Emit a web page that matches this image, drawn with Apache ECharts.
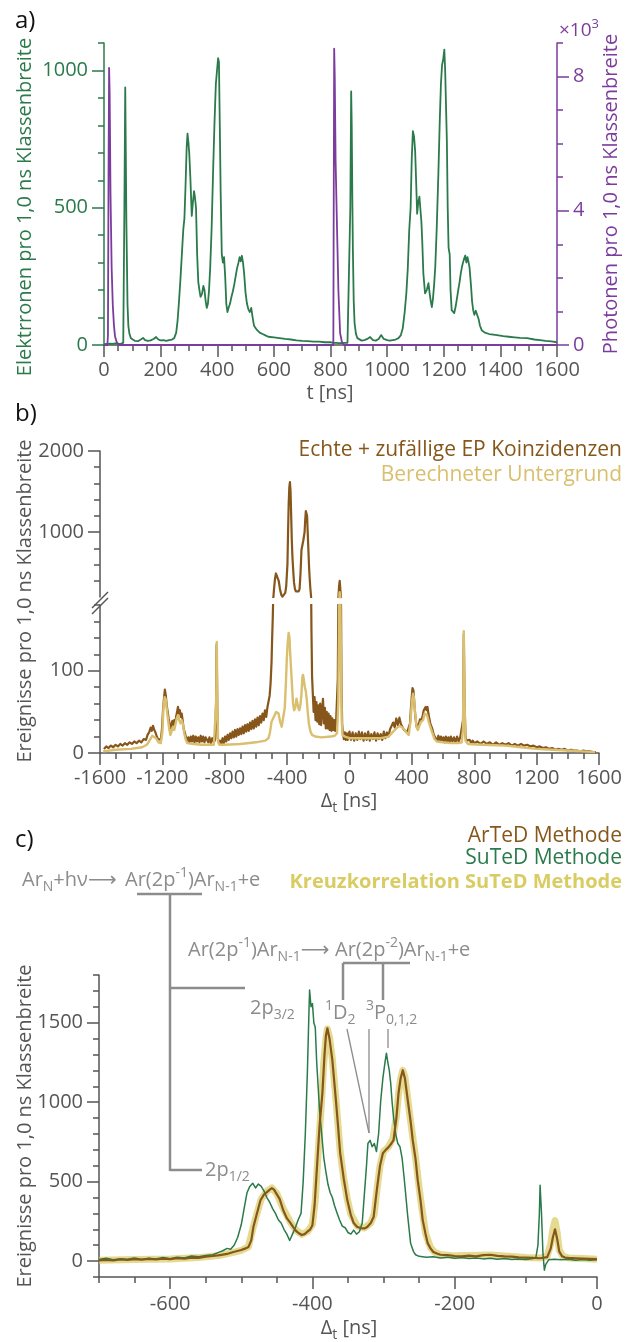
<!DOCTYPE html>
<html>
<head>
<meta charset="utf-8">
<title>Elektronen-Photonen-Koinzidenzen</title>
<script src="https://cdn.jsdelivr.net/npm/echarts@6.0.0/dist/echarts.min.js"></script>
<style>
  html, body { margin: 0; padding: 0; background: #ffffff; }
  #main { width: 635px; height: 1342px; }
</style>
</head>
<body>
<div id="main"></div>
<script>
var FONT = '"Open Sans", "DejaVu Sans", sans-serif';
var GREEN = '#2b7a4b', PURPLE = '#7b3c9e', BROWN = '#86561b', TAN = '#d9bf6e',
    YELLOW = '#d8cc62', GRAY = '#8c8c8c', AXIS = '#555555';

// ---- a) Flugzeitspektrum ----
var tTicks = [0, 200, 400, 600, 800, 1000, 1200, 1400, 1600];
var electronTicks = [0, 500, 1000];
var photonTicks = [0, 4, 8];
// [t in ns, Elektronen]
var electronsA = [[0,3],[10,4],[20,5],[30,4],[40,6],[50,4],[60,5],[68,8],[72,500],[75,938],[77,700],[79,450],[81,300],[83,150],[86,70],[90,40],[95,25],[100,18],[110,15],[120,14],[130,20],[138,26],[145,18],[155,15],[165,17],[175,22],[184,29],[192,20],[200,17],[210,18],[220,15],[230,18],[240,20],[248,25],[255,45],[260,90],[265,160],[270,240],[275,330],[280,420],[284,460],[288,580],[292,720],[295,770],[298,740],[301,700],[305,610],[310,470],[314,520],[318,560],[321,540],[325,500],[329,330],[333,230],[337,200],[341,175],[346,185],[351,215],[355,200],[359,160],[363,135],[367,150],[371,200],[375,280],[380,420],[385,620],[390,800],[395,950],[400,1010],[403,1045],[406,1030],[409,800],[412,560],[416,330],[420,300],[424,320],[428,250],[432,150],[436,120],[440,135],[445,150],[450,175],[455,195],[460,220],[465,250],[470,280],[475,300],[479,320],[483,305],[487,325],[491,300],[495,260],[500,190],[505,150],[510,130],[515,120],[520,135],[525,100],[530,70],[540,55],[550,45],[560,40],[570,35],[580,30],[600,28],[620,25],[640,22],[660,20],[680,17],[700,15],[720,14],[740,12],[760,12],[780,10],[800,10],
  [810,8],[820,8],[830,7],[840,7],[850,8],[860,8],[866,12],[870,500],[873,924],[875,800],[877,550],[879,350],[882,160],[885,80],[890,40],[895,25],[900,18],[910,16],[920,18],[930,22],[940,29],[950,18],[960,16],[970,22],[979,36],[988,22],[1000,18],[1010,16],[1020,18],[1030,20],[1040,25],[1048,35],[1055,60],[1062,120],[1068,190],[1073,280],[1078,417],[1083,500],[1087,680],[1091,779],[1095,760],[1099,706],[1103,580],[1106,478],[1110,520],[1114,540],[1117,536],[1121,450],[1124,380],[1128,260],[1134,188],[1140,200],[1146,225],[1150,190],[1154,160],[1158,138],[1162,170],[1166,220],[1170,283],[1175,420],[1181,623],[1186,820],[1190,950],[1194,1020],[1198,1040],[1202,1076],[1205,1000],[1208,870],[1211,743],[1214,500],[1217,355],[1221,330],[1224,200],[1228,127],[1233,120],[1237,116],[1242,140],[1246,165],[1251,199],[1256,230],[1260,260],[1264,283],[1268,300],[1272,315],[1276,326],[1280,300],[1284,320],[1288,300],[1291,283],[1296,220],[1300,160],[1304,127],[1308,110],[1313,125],[1318,120],[1323,95],[1328,70],[1334,54],[1345,45],[1360,40],[1375,38],[1388,36],[1410,32],[1430,30],[1450,28],[1470,26],[1494,25],[1520,20],[1540,18],[1560,15],[1580,13],[1600,10]];
// [t in ns, Photonen x10^3]
var photonsA = [[0,0],[12,0],[14,0.3],[16,5],[18,8.26],[20,7.5],[23,4.5],[27,2.3],[31,1.2],[35,0.6],[39,0.25],[45,0.08],[55,0],[810,0],[811,3],[813,8.83],[815,8],[818,5.5],[823,3.5],[828,1.6],[834,0.35],[840,0.1],[848,0],[1600,0]];

// ---- b) Koinzidenzen ----
var dTicksB = [-1600, -1200, -800, -400, 0, 400, 800, 1200, 1600];
var upperTicksB = [1000, 2000];
var lowerTicksB = [0, 100];
// [Delta_t in ns, Ereignisse]
var totalB = [[-1575,5],[-1560,8],[-1545,6],[-1530,9],[-1515,7],[-1500,10],[-1485,8],[-1470,11],[-1455,9],[-1440,12],[-1425,10],[-1410,13],[-1395,11],[-1380,14],[-1365,12],[-1350,15],[-1335,13],[-1320,17],[-1305,16],[-1295,22],[-1285,25],[-1275,31],[-1268,27],[-1260,33],[-1252,28],[-1244,25],[-1236,20],[-1228,17],[-1220,18],[-1210,16],[-1203,28],[-1196,52],[-1190,66],[-1184,77],[-1178,70],[-1172,58],[-1166,50],[-1160,42],[-1154,36],[-1148,30],[-1142,34],[-1136,39],[-1130,32],[-1124,40],[-1118,36],[-1112,44],[-1106,50],[-1100,56],[-1094,48],[-1088,52],[-1082,44],[-1076,48],[-1070,40],[-1064,30],[-1058,26],[-1050,20],[-1042,14],[-1034,19],[-1026,13],[-1018,20],[-1010,14],[-1002,21],[-994,13],[-986,20],[-978,14],[-970,19],[-962,13],[-954,21],[-946,14],[-938,20],[-930,13],[-922,19],[-914,21],[-906,13],[-898,19],[-890,12],[-880,18],[-870,13],[-862,16],[-856,60],[-852,132],[-848,60],[-844,18],[-838,12],[-830,15],[-822,11],[-814,18],[-806,12],[-798,20],[-790,14],[-782,22],[-774,16],[-766,24],[-758,18],[-750,26],[-742,19],[-734,28],[-726,20],[-718,29],[-710,22],[-702,30],[-694,23],[-686,32],[-678,24],[-670,34],[-662,26],[-654,35],[-646,27],[-638,37],[-630,29],[-622,39],[-614,30],[-606,41],[-598,32],[-590,43],[-582,34],[-574,45],[-566,37],[-558,48],[-550,40],[-542,52],[-534,44],[-526,56],[-518,58],[-512,70],[-506,85],[-500,110],[-496,140],[-492,165],[-488,200],[-484,300],[-478,420],[-472,490],[-466,506],[-460,470],[-454,400],[-446,300],[-438,230],[-430,205],[-424,203],[-418,215],[-412,250],[-406,330],[-402,345],[-398,600],[-394,1000],[-390,1350],[-386,1550],[-382,1617],[-378,1500],[-374,1200],[-370,900],[-366,700],[-362,560],[-356,380],[-350,300],[-344,270],[-338,260],[-332,262],[-326,270],[-320,300],[-314,500],[-308,780],[-304,820],[-300,860],[-296,900],[-292,920],[-288,1000],[-284,1150],[-280,1260],[-276,1270],[-272,1200],[-268,1000],[-264,800],[-260,600],[-256,450],[-252,330],[-248,240],[-244,150],[-240,93],[-236,75],[-230,50],[-224,68],[-218,40],[-212,62],[-206,38],[-200,58],[-194,35],[-188,60],[-182,34],[-176,52],[-170,66],[-164,36],[-158,55],[-152,30],[-146,50],[-140,30],[-134,48],[-128,28],[-122,45],[-116,27],[-110,42],[-104,28],[-98,40],[-92,27],[-86,38],[-80,40],[-75,90],[-71,200],[-67,330],[-63,400],[-59,380],[-55,200],[-51,80],[-47,35],[-42,24],[-36,17],[-30,25],[-24,16],[-18,24],[-12,16],[-6,23],[0,26],[10,16],[20,25],[30,15],[40,24],[50,16],[60,26],[70,17],[80,25],[90,15],[100,24],[110,16],[120,26],[130,15],[140,23],[150,17],[160,25],[170,15],[180,24],[190,17],[200,23],[210,16],[220,26],[230,18],[240,25],[250,20],[260,29],[270,28],[280,37],[290,31],[300,42],[310,34],[320,43],[330,35],[340,36],[350,28],[360,28],[370,25],[380,24],[388,36],[394,55],[400,70],[404,79],[410,76],[416,60],[422,45],[430,32],[438,30],[446,36],[452,41],[458,38],[464,42],[470,46],[476,52],[482,50],[488,56],[494,52],[500,56],[506,48],[512,42],[518,36],[524,38],[530,30],[538,24],[546,20],[554,18],[562,15],[570,21],[578,14],[586,20],[594,14],[602,19],[610,13],[618,20],[626,14],[634,19],[642,13],[650,20],[660,14],[670,19],[680,13],[690,20],[700,14],[710,19],[720,17],[728,40],[733,145],[738,60],[744,20],[750,15],[760,13],[770,16],[780,12],[790,15],[800,12],[820,14],[840,11],[860,14],[880,11],[900,13],[920,10],[940,13],[960,10],[980,12],[1000,10],[1020,12],[1040,9],[1060,11],[1080,9],[1100,11],[1120,9],[1140,10],[1160,8],[1180,9],[1200,7],[1220,8],[1240,6],[1260,7],[1280,5],[1300,6],[1320,4],[1340,5],[1360,4],[1380,5],[1400,3],[1420,4],[1440,3],[1460,3],[1480,2],[1500,3],[1520,2],[1540,2],[1560,1],[1580,1]];
var backgroundB = [[-1580,2],[-1500,4],[-1400,5],[-1330,7],[-1300,10],[-1280,16],[-1265,21],[-1255,22],[-1240,18],[-1225,13],[-1210,12],[-1200,25],[-1193,55],[-1185,68],[-1178,65],[-1170,50],[-1162,38],[-1155,28],[-1148,22],[-1140,24],[-1132,32],[-1124,28],[-1116,35],[-1108,42],[-1100,46],[-1092,40],[-1084,36],[-1076,40],[-1068,35],[-1060,24],[-1050,16],[-1040,12],[-1000,11],[-950,10],[-900,10],[-870,10],[-860,12],[-855,60],[-851,135],[-847,60],[-843,14],[-835,10],[-800,10],[-700,11],[-600,13],[-540,15],[-520,18],[-510,25],[-500,38],[-490,42],[-480,44],[-470,50],[-462,52],[-455,48],[-445,38],[-435,32],[-425,34],[-415,55],[-408,85],[-402,115],[-396,135],[-390,146],[-385,140],[-380,120],[-374,100],[-368,80],[-362,60],[-355,52],[-348,55],[-340,66],[-334,68],[-328,55],[-322,52],[-315,58],[-308,72],[-302,92],[-298,95],[-292,88],[-286,80],[-280,75],[-274,65],[-268,50],[-260,35],[-250,26],[-240,22],[-220,20],[-180,19],[-120,20],[-95,21],[-80,24],[-72,60],[-67,150],[-63,260],[-59,200],[-55,120],[-50,40],[-45,22],[-30,20],[0,18],[100,18],[200,18],[250,20],[280,26],[300,30],[323,33],[345,30],[365,25],[380,22],[392,40],[400,62],[407,72],[413,68],[420,50],[430,32],[438,28],[448,33],[458,38],[464,36],[472,40],[482,48],[490,50],[498,46],[508,38],[518,32],[530,25],[545,17],[560,14],[600,13],[650,12],[700,12],[720,13],[728,30],[733,148],[738,60],[744,15],[760,11],[850,10],[1000,9],[1100,7],[1200,5],[1300,4],[1400,3],[1500,2],[1575,1]];

// ---- c) Vergleich der Methoden ----
var dTicksC = [-600, -400, -200, 0];
var yTicksC = [0, 500, 1000, 1500];
var sutedC = [[-700,10],[-690,18],[-680,8],[-670,15],[-660,12],[-650,20],[-640,10],[-630,18],[-620,14],[-610,22],[-600,15],[-590,25],[-580,20],[-570,32],[-560,28],[-550,35],[-540,40],[-532,55],[-526,65],[-520,80],[-515,75],[-510,100],[-505,150],[-500,230],[-496,330],[-492,430],[-488,470],[-484,490],[-480,460],[-476,485],[-472,470],[-468,440],[-464,400],[-460,370],[-456,330],[-452,300],[-448,260],[-444,240],[-440,200],[-436,170],[-432,130],[-428,170],[-424,210],[-420,260],[-416,300],[-413,500],[-410,800],[-407,1200],[-405,1550],[-404,1705],[-402,1600],[-400,1620],[-398,1500],[-396,1470],[-394,1250],[-392,1100],[-390,950],[-387,800],[-384,650],[-381,560],[-378,480],[-375,430],[-372,400],[-369,350],[-366,310],[-362,260],[-358,220],[-354,210],[-350,180],[-346,170],[-342,195],[-338,170],[-334,185],[-330,240],[-327,420],[-324,600],[-322,740],[-319,760],[-316,720],[-313,740],[-310,690],[-307,800],[-304,1010],[-301,1150],[-298,1250],[-296,1308],[-294,1250],[-292,1200],[-290,1120],[-288,1000],[-286,905],[-283,800],[-280,740],[-277,720],[-274,650],[-271,520],[-269,425],[-266,280],[-262,113],[-258,60],[-255,40],[-250,30],[-240,25],[-230,28],[-220,20],[-210,25],[-200,18],[-190,22],[-180,16],[-170,20],[-160,14],[-150,18],[-140,12],[-130,16],[-120,10],[-110,14],[-100,10],[-92,15],[-86,20],[-83,100],[-81,300],[-80,478],[-78,300],[-76,50],[-74,-57],[-72,-20],[-68,8],[-60,12],[-50,8],[-40,12],[-30,6],[-20,10],[-10,5],[0,8]];
var artedC = [[-700,5],[-690,8],[-680,4],[-670,10],[-660,7],[-650,12],[-640,9],[-630,14],[-620,10],[-610,15],[-600,12],[-590,18],[-580,15],[-570,22],[-560,20],[-550,28],[-540,32],[-530,38],[-520,45],[-511,57],[-500,70],[-494,80],[-490,88],[-486,130],[-483,214],[-478,300],[-473,383],[-468,420],[-464,434],[-460,450],[-457,459],[-454,450],[-450,420],[-446,390],[-441,320],[-436,270],[-431,240],[-427,214],[-423,190],[-419,175],[-415,164],[-411,170],[-407,185],[-403,200],[-400,226],[-397,350],[-393,635],[-390,850],[-386,1056],[-383,1300],[-381,1420],[-379,1465],[-376,1400],[-372,1264],[-367,1012],[-364,850],[-361,679],[-356,520],[-351,384],[-346,290],[-342,239],[-337,215],[-332,208],[-327,205],[-323,214],[-318,240],[-314,277],[-309,465],[-305,600],[-301,679],[-297,700],[-293,717],[-289,740],[-286,761],[-282,900],[-279,1056],[-276,1150],[-273,1201],[-270,1150],[-266,1012],[-262,880],[-259,761],[-255,640],[-252,509],[-248,380],[-245,258],[-241,170],[-238,113],[-234,80],[-230,57],[-225,48],[-220,40],[-210,38],[-200,32],[-190,30],[-180,34],[-170,30],[-160,38],[-150,40],[-140,33],[-130,30],[-120,28],[-110,24],[-100,22],[-90,20],[-80,18],[-70,25],[-65,80],[-62,150],[-59,200],[-56,140],[-53,60],[-49,30],[-45,22],[-40,20],[-30,18],[-20,16],[-10,14],[0,12]];
var crossC = [[-700,5],[-650,10],[-600,14],[-560,22],[-530,36],[-511,55],[-500,68],[-490,90],[-484,200],[-478,300],[-472,390],[-464,440],[-457,460],[-450,425],[-441,330],[-431,245],[-423,195],[-415,168],[-407,185],[-400,230],[-396,380],[-392,680],[-388,950],[-384,1250],[-381,1400],[-379,1460],[-376,1410],[-372,1270],[-367,1020],[-361,690],[-356,520],[-351,390],[-346,295],[-337,220],[-327,208],[-318,240],[-313,300],[-309,460],[-305,600],[-300,690],[-293,720],[-287,770],[-282,910],[-279,1050],[-276,1150],[-273,1200],[-270,1160],[-266,1020],[-262,880],[-255,650],[-248,390],[-241,175],[-234,85],[-228,55],[-220,42],[-200,33],[-150,38],[-100,22],[-80,20],[-70,30],[-65,110],[-62,200],[-59,255],[-56,180],[-53,70],[-48,30],[-40,20],[-20,16],[0,12]];

function range(a, b, step, skip) {
  var out = [];
  for (var v = a; v <= b + 1e-9; v += step) {
    if (skip.indexOf(v) < 0) out.push(v);
  }
  return out;
}
function plain(v) { return String(v); }

var TICK_FONT = 20;

function xPair(grid, min, max, majors, minorStep, margin) {
  return [{
    type: 'value', gridIndex: grid, position: 'bottom', min: min, max: max,
    axisLine: { show: true, onZero: false, lineStyle: { color: AXIS, width: 1.5 } },
    axisTick: { show: true, customValues: majors, length: 12, lineStyle: { color: AXIS, width: 1.5 } },
    axisLabel: { customValues: majors, formatter: plain, color: AXIS, fontSize: TICK_FONT, fontFamily: FONT, margin: margin },
    splitLine: { show: false }
  }, {
    type: 'value', gridIndex: grid, position: 'bottom', min: min, max: max,
    axisLine: { show: false, onZero: false },
    axisTick: { show: true, customValues: range(min, max, minorStep, majors), length: 6, lineStyle: { color: AXIS, width: 1.5 } },
    axisLabel: { show: false }, splitLine: { show: false }
  }];
}
function yPair(grid, pos, min, max, majors, minors, color, labelColor) {
  return [{
    type: 'value', gridIndex: grid, position: pos, offset: 0, min: min, max: max,
    axisLine: { show: true, onZero: false, lineStyle: { color: color, width: 1.5 } },
    axisTick: { show: true, customValues: majors, length: 12, lineStyle: { color: color, width: 1.5 } },
    axisLabel: { customValues: majors, formatter: plain, color: labelColor, fontSize: TICK_FONT, fontFamily: FONT, margin: 16 },
    splitLine: { show: false }
  }, {
    type: 'value', gridIndex: grid, position: pos, offset: 0, min: min, max: max,
    axisLine: { show: false, onZero: false },
    axisTick: { show: true, customValues: minors, length: 6, lineStyle: { color: color, width: 1.5 } },
    axisLabel: { show: false }, splitLine: { show: false }
  }];
}
function line(data, xi, yi, color, width, z, opacity) {
  return {
    type: 'line', xAxisIndex: xi, yAxisIndex: yi, data: data, symbol: 'none', showSymbol: false,
    clip: true, z: z, silent: true,
    lineStyle: { color: color, width: width, opacity: opacity == null ? 1 : opacity, join: 'round' }
  };
}

function rich(color, size) {
  var small = Math.round(size * 0.68);
  return {
    n: { fontSize: size, fontFamily: FONT, fill: color, lineHeight: size + 8 },
    b: { fontSize: size, fontFamily: FONT, fill: color, lineHeight: size + 8, fontWeight: 'bold' },
    sub: { fontSize: small, fontFamily: FONT, fill: color, lineHeight: small, verticalAlign: 'bottom' },
    sup: { fontSize: small, fontFamily: FONT, fill: color, lineHeight: small, verticalAlign: 'top' }
  };
}
function txt(x, y, text, color, align, size, extra) {
  size = size || 20;
  var el = {
    type: 'text', x: x, y: y, z: 100, silent: true,
    style: { text: text, rich: rich(color, size), textAlign: align || 'left', textVerticalAlign: 'middle', fill: color, font: size + 'px ' + FONT }
  };
  if (extra) for (var k in extra) el[k] = extra[k];
  return el;
}
function panelLabel(x, y, s) {
  return { type: 'text', x: x, y: y, z: 100, silent: true,
           style: { text: s, fill: '#111', font: '24px ' + FONT, textVerticalAlign: 'middle' } };
}
function seg(x1, y1, x2, y2, w, color) {
  return { type: 'line', z: 100, silent: true, shape: { x1: x1, y1: y1, x2: x2, y2: y2 },
           style: { stroke: color || GRAY, lineWidth: w } };
}

var xAxes = [].concat(
  xPair(0, 0, 1600, tTicks, 50, 15),
  [{ type: 'value', gridIndex: 1, min: -1600, max: 1600, show: false }],
  xPair(2, -1600, 1600, dTicksB, 100, 15),
  xPair(3, -700, 0, dTicksC, 50, 17)
);
var yAxes = [].concat(
  yPair(0, 'left', 0, 1100, electronTicks, range(100, 1100, 100, electronTicks), GREEN, GREEN),
  yPair(0, 'right', 0, 9, photonTicks, range(1, 9, 1, photonTicks), PURPLE, PURPLE),
  yPair(1, 'left', 200, 2000, upperTicksB, range(400, 1800, 200, upperTicksB), AXIS, AXIS),
  yPair(2, 'left', 0, 180, lowerTicksB, range(20, 180, 20, lowerTicksB), AXIS, AXIS),
  yPair(3, 'left', -100, 1800, yTicksC, range(-100, 1800, 100, yTicksC), AXIS, AXIS)
);

var chart = echarts.init(document.getElementById('main'), null, { renderer: 'canvas' });
var option = {
  animation: false,
  backgroundColor: '#ffffff',
  textStyle: { fontFamily: FONT },
  grid: [
    { left: 104, top: 43, width: 453, height: 302 },
    { left: 100, top: 451, width: 499, height: 146 },
    { left: 100, top: 605, width: 499, height: 148 },
    { left: 99, top: 975, width: 498, height: 302 }
  ],
  xAxis: xAxes,
  yAxis: yAxes,
  series: [
    line(electronsA, 0, 0, GREEN, 1.8, 2),
    line(photonsA, 0, 2, PURPLE, 1.8, 3),
    line(totalB, 2, 4, BROWN, 2.2, 2),
    line(backgroundB, 2, 4, TAN, 2.4, 3),
    line(totalB, 3, 6, BROWN, 2.2, 2),
    line(backgroundB, 3, 6, TAN, 2.4, 3),
    line(crossC, 5, 8, YELLOW, 7, 1, 0.7),
    line(sutedC, 5, 8, GREEN, 1.5, 2),
    line(artedC, 5, 8, BROWN, 2.2, 3)
  ],
  graphic: [
    panelLabel(15, 21, 'a)'),
    panelLabel(15, 414, 'b)'),
    panelLabel(15, 840, 'c)'),
    // axis names
    txt(25, 207, '{n|Elektrronen pro 1,0 ns Klassenbreite}', GREEN, 'center', 20, { rotation: Math.PI / 2 }),
    txt(611, 194, '{n|Photonen pro 1,0 ns Klassenbreite}', PURPLE, 'center', 20, { rotation: Math.PI / 2 }),
    txt(559, 31, '{n|×10}{sup|3}', PURPLE, 'left', 19),
    txt(330, 393, '{n|t [ns]}', AXIS, 'center', 20),
    txt(25, 601, '{n|Ereignisse pro 1,0 ns Klassenbreite}', AXIS, 'center', 20, { rotation: Math.PI / 2 }),
    txt(349, 801, '{n|Δ}{sub|t}{n| [ns]}', AXIS, 'center', 20),
    txt(25, 1126, '{n|Ereignisse pro 1,0 ns Klassenbreite}', AXIS, 'center', 20, { rotation: Math.PI / 2 }),
    txt(349, 1328, '{n|Δ}{sub|t}{n| [ns]}', AXIS, 'center', 20),
    // axis break
    seg(92, 608, 108, 592, 1.5, AXIS),
    seg(92, 614, 108, 598, 1.5, AXIS),
    // legends
    txt(622, 450, '{n|Echte + zufällige EP Koinzidenzen}', BROWN, 'right', 21),
    txt(622, 475, '{n|Berechneter Untergrund}', TAN, 'right', 21),
    txt(622, 836, '{n|ArTeD Methode}', BROWN, 'right', 21),
    txt(622, 858, '{n|SuTeD Methode}', GREEN, 'right', 21),
    txt(622, 882, '{b|Kreuzkorrelation SuTeD Methode}', YELLOW, 'right', 20),
    // level scheme: first step
    txt(22, 880, '{n|Ar}{sub|N}{n|+hν⟶}', GRAY, 'left', 20),
    txt(125, 880, '{n|Ar(2p}{sup|-1}{n|)Ar}{sub|N-1}{n|+e}', GRAY, 'left', 20),
    seg(137, 894, 202, 894, 2.5),
    seg(170, 894, 170, 1171, 2.5),
    seg(170, 988, 245, 988, 2.5),
    seg(170, 1170, 202, 1170, 2.5),
    txt(250, 1008, '{n|2p}{sub|3/2}', GRAY, 'left', 20),
    txt(205, 1170, '{n|2p}{sub|1/2}', GRAY, 'left', 20),
    // second step
    txt(188, 950, '{n|Ar(2p}{sup|-1}{n|)Ar}{sub|N-1}{n|⟶}', GRAY, 'left', 20),
    txt(335, 950, '{n|Ar(2p}{sup|-2}{n|)Ar}{sub|N-1}{n|+e}', GRAY, 'left', 20),
    seg(343, 963, 410, 963, 2.5),
    seg(343, 963, 343, 1000, 2.5),
    seg(383, 963, 383, 1000, 2.5),
    txt(325, 1013, '{sup|1}{n|D}{sub|2}', GRAY, 'left', 20),
    txt(366, 1013, '{sup|3}{n|P}{sub|0,1,2}', GRAY, 'left', 20),
    seg(347, 1029, 369, 1133, 1.3),
    seg(369, 1029, 369, 1133, 1.3),
    seg(388, 1029, 388, 1048, 1.3)
  ]
};
chart.setOption(option);
</script>
</body>
</html>
